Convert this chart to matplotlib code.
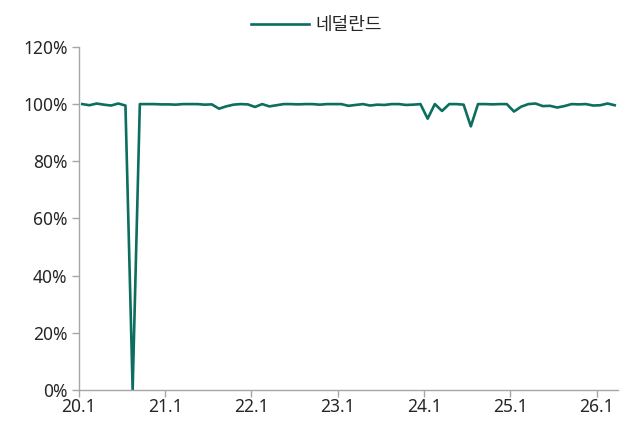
import matplotlib
matplotlib.use("Agg")
import matplotlib.pyplot as plt
from matplotlib.ticker import FuncFormatter

plt.rcParams['font.family'] = ['Noto Sans', 'Noto Sans CJK KR', 'DejaVu Sans']

# 월별 비율(%), 2020.1 ~ 2026.3
series_name = "네덜란드"
values = [
    100.0, 99.6, 100.2, 99.8, 99.5, 100.2, 99.5, 0.0, 100.0, 100.0, 100.0, 99.9,
    99.9, 99.8, 100.0, 100.0, 100.0, 99.8, 99.9, 98.4, 99.2, 99.8, 100.0, 99.9,
    99.0, 100.0, 99.2, 99.6, 100.0, 100.0, 99.9, 100.0, 100.0, 99.8, 100.0, 100.0,
    100.0, 99.4, 99.7, 100.0, 99.5, 99.8, 99.7, 100.0, 100.0, 99.7, 99.8, 100.0,
    94.9, 100.0, 97.6, 100.0, 100.0, 99.8, 92.2, 100.0, 100.0, 99.9, 100.0, 100.0,
    97.4, 99.1, 100.0, 100.2, 99.3, 99.4, 98.8, 99.3, 100.0, 99.9, 100.0, 99.5,
    99.6, 100.2, 99.6,
]
tick_labels = ["20.1", "21.1", "22.1", "23.1", "24.1", "25.1", "26.1"]
y_ticks = [0, 20, 40, 60, 80, 100, 120]

line_color = "#0B6E5F"
axis_color = "#A6A6A6"
text_color = "#262626"

fig = plt.figure(figsize=(6.33, 4.23), dpi=100)
ax = fig.add_axes([0.1243, 0.078, 0.8525, 0.8111])

x = [i + 0.5 for i in range(len(values))]
ax.plot(x, values, color=line_color, linewidth=1.9, label=series_name)

ax.set_xlim(0, len(values))
ax.set_ylim(0, 120)
ax.set_xticks([12 * i for i in range(len(tick_labels))])
ax.set_xticklabels(tick_labels)
ax.set_yticks(y_ticks)
ax.yaxis.set_major_formatter(FuncFormatter(lambda v, _: f"{v:.0f}%"))

for side in ("top", "right"):
    ax.spines[side].set_visible(False)
for side in ("left", "bottom"):
    ax.spines[side].set_color(axis_color)
    ax.spines[side].set_linewidth(1.0)

ax.tick_params(axis="both", colors=axis_color, labelcolor=text_color,
               labelsize=12.5, length=5, width=1.0, direction="out")
ax.tick_params(axis="x", pad=1)
ax.tick_params(axis="y", pad=3)

fig.legend(loc="upper center", bbox_to_anchor=(0.5, 1.0), frameon=False,
           fontsize=13, handlelength=3.2, handletextpad=0.35,
           labelcolor=text_color)

fig.savefig("out.png", dpi=100)
